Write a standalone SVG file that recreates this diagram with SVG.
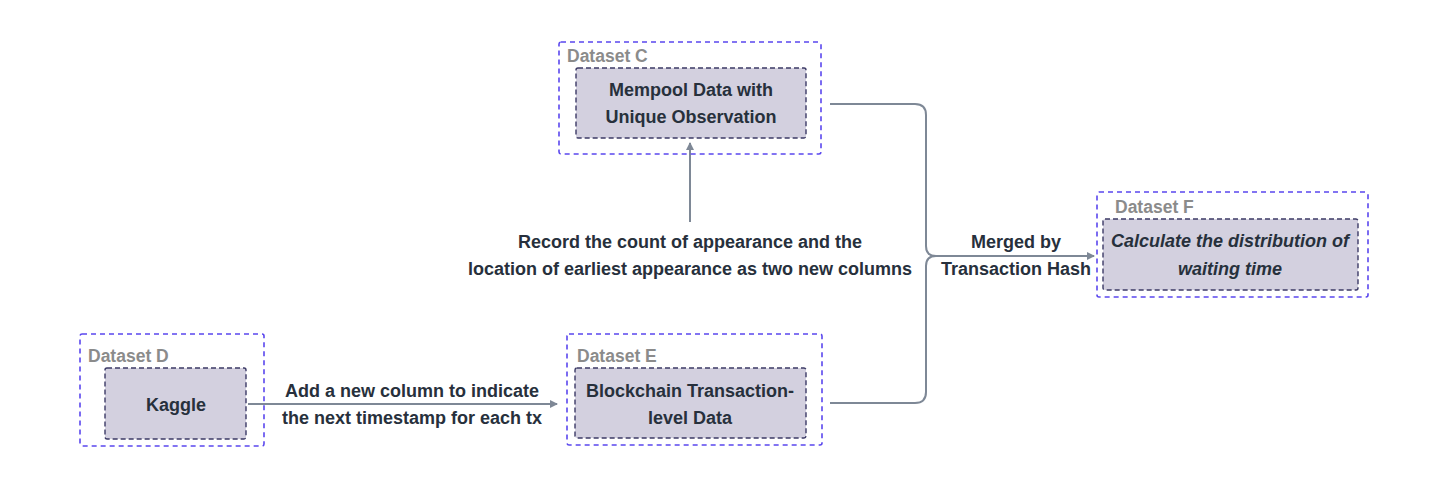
<svg xmlns="http://www.w3.org/2000/svg" width="1454" height="498" viewBox="0 0 1454 498">
<defs>
<style>
.outer{fill:none;stroke:#5a47ee;stroke-width:1.6;stroke-dasharray:5 4}
.inner{fill:#d3d0df;stroke:#3c3a66;stroke-width:1.4;stroke-dasharray:5 3}
.ds{font-family:"Liberation Sans",Arial,sans-serif;font-weight:bold;font-size:17.5px;fill:#8b8b8b}
.t{font-family:"Liberation Sans",Arial,sans-serif;font-weight:bold;font-size:18px;fill:#27303c;text-anchor:middle}
.ti{font-style:italic}
.c{fill:none;stroke:#7e8896;stroke-width:2}
</style>
<marker id="ah" markerWidth="10" markerHeight="10" refX="8" refY="5" orient="auto" markerUnits="userSpaceOnUse">
<path d="M1,1 L9,5 L1,9 Z" fill="#7e8896"/>
</marker>
</defs>
<rect width="1454" height="498" fill="#ffffff"/>
<g id="connectors">
<path class="c" d="M248,404 H557" marker-end="url(#ah)"/>
<path class="c" d="M690,222 V143" marker-end="url(#ah)"/>
<path class="c" d="M830,104 H915 Q926,104 926,115 V246 Q926,256 936,256 H1094" marker-end="url(#ah)"/>
<path class="c" d="M830,403 H915 Q926,403 926,392 V266 Q926,256 936,256"/>
</g>
<g id="labels">
<text class="t" x="412" y="397">Add a new column to indicate</text>
<text class="t" x="412" y="424">the next timestamp for each tx</text>
<text class="t" x="690" y="248">Record the count of appearance and the</text>
<text class="t" x="690" y="275">location of earliest appearance as two new columns</text>
<text class="t" x="1016" y="248">Merged by</text>
<text class="t" x="1016" y="275">Transaction Hash</text>
</g>
<g id="datasetC">
<rect class="outer" x="559" y="42" width="262" height="112" rx="2"/>
<text class="ds" x="567" y="62">Dataset C</text>
<rect class="inner" x="576" y="68" width="230" height="70" rx="2"/>
<text class="t" x="691" y="96">Mempool Data with</text>
<text class="t" x="691" y="123">Unique Observation</text>
</g>
<g id="datasetD">
<rect class="outer" x="80" y="334" width="184" height="112" rx="2"/>
<text class="ds" x="88" y="362">Dataset D</text>
<rect class="inner" x="105" y="368" width="141" height="71" rx="2"/>
<text class="t" x="176" y="411">Kaggle</text>
</g>
<g id="datasetE">
<rect class="outer" x="567" y="334" width="255" height="111" rx="2"/>
<text class="ds" x="577" y="362">Dataset E</text>
<rect class="inner" x="575" y="368" width="231" height="70" rx="2"/>
<text class="t" x="690" y="397">Blockchain Transaction-</text>
<text class="t" x="690" y="424">level Data</text>
</g>
<g id="datasetF">
<rect class="outer" x="1097" y="192" width="271" height="105" rx="2"/>
<text class="ds" x="1115" y="213">Dataset F</text>
<rect class="inner" x="1103" y="219" width="255" height="71" rx="2"/>
<text class="t ti" x="1230" y="247">Calculate the distribution of</text>
<text class="t ti" x="1230" y="275">waiting time</text>
</g>
</svg>
